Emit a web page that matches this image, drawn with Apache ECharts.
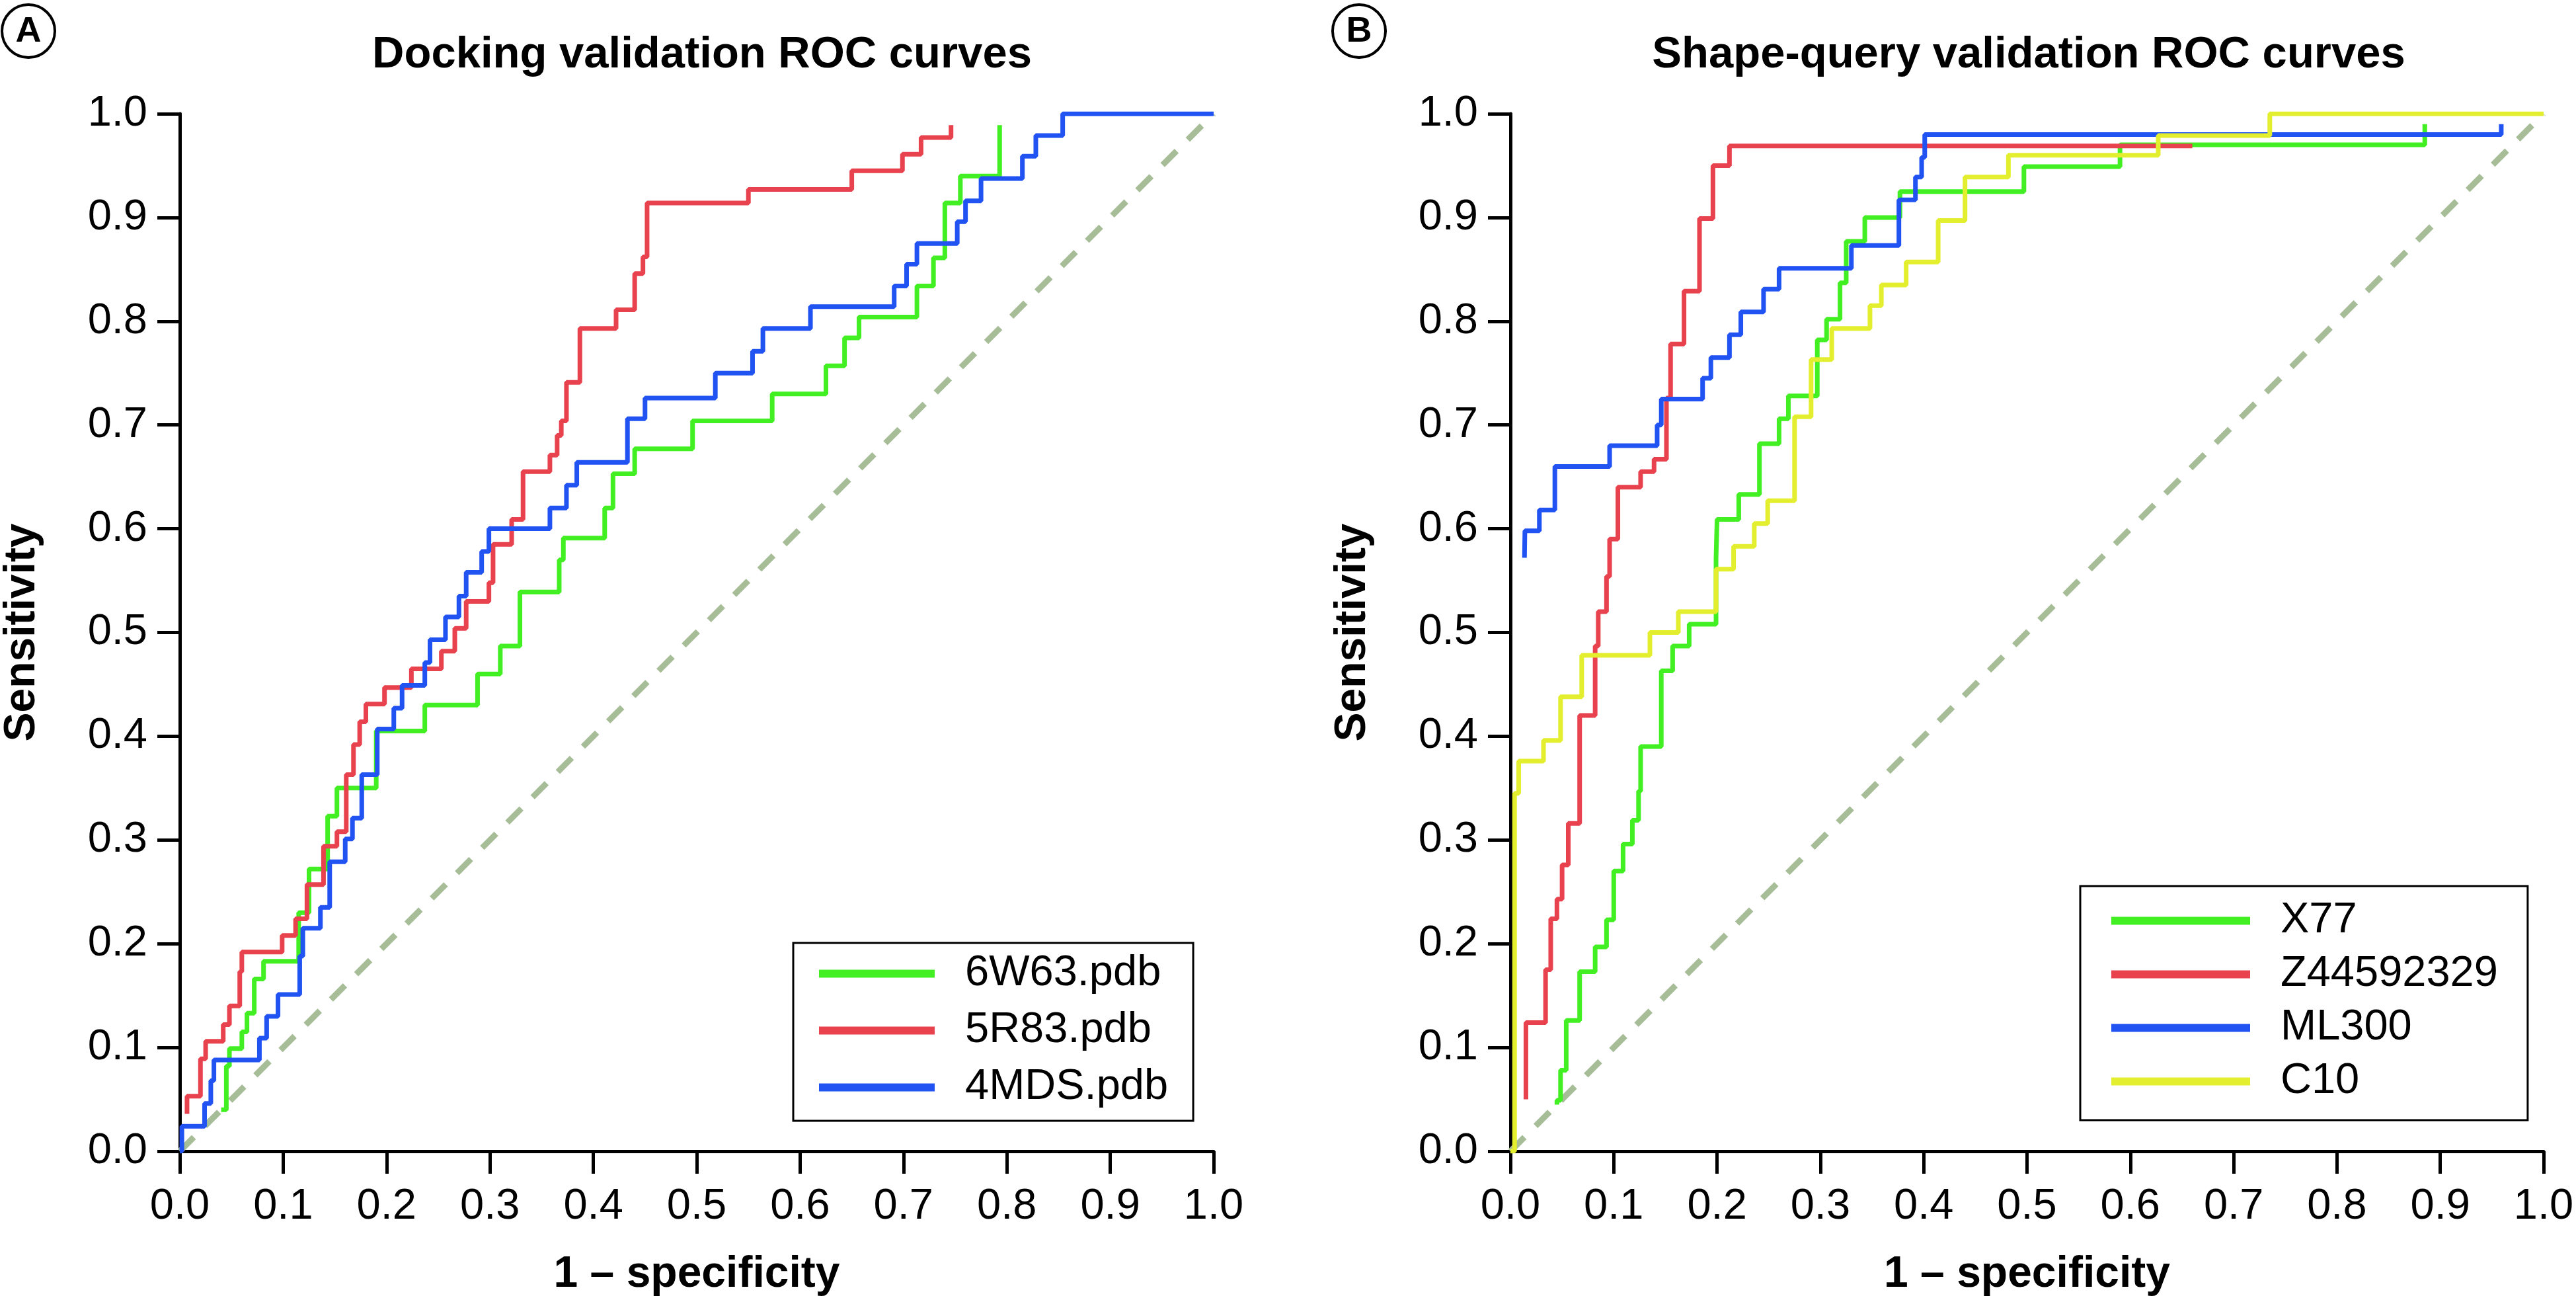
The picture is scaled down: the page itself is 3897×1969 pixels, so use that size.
<!DOCTYPE html>
<html>
<head>
<meta charset="utf-8">
<title>ROC curves</title>
<script src="https://cdn.jsdelivr.net/npm/echarts@6/dist/echarts.min.js"></script>
<style>
    html, body { margin: 0; padding: 0; background: #fff; }
    #chart { width: 3897px; height: 1969px; }
</style>
</head>
<body>
<div id="chart"></div>
<script>
    // ROC points as [1 - specificity, sensitivity]; drawn as steps (rise happens at x)
    var dockNames = ['6W63.pdb', '5R83.pdb', '4MDS.pdb'];
    var dock6W63 = [[0.04, 0.04], [0.045, 0.082], [0.048, 0.099], [0.06, 0.115], [0.065, 0.133], [0.072, 0.166], [0.081, 0.183],
        [0.115, 0.23], [0.125, 0.272], [0.143, 0.323], [0.152, 0.35], [0.19, 0.405], [0.237, 0.43], [0.288, 0.46],
        [0.31, 0.487], [0.329, 0.539], [0.367, 0.57], [0.371, 0.591], [0.411, 0.62], [0.419, 0.653], [0.44, 0.677],
        [0.496, 0.704], [0.573, 0.73], [0.625, 0.757], [0.643, 0.784], [0.657, 0.804], [0.713, 0.834], [0.729, 0.861],
        [0.74, 0.914], [0.755, 0.94], [0.793, 0.989]];
    var dock5R83 = [[0.007, 0.036], [0.007, 0.053], [0.02, 0.089], [0.025, 0.106], [0.042, 0.122], [0.048, 0.14], [0.058, 0.173],
        [0.06, 0.192], [0.099, 0.208], [0.112, 0.224], [0.123, 0.257], [0.139, 0.294], [0.152, 0.308], [0.161, 0.363],
        [0.168, 0.392], [0.174, 0.414], [0.18, 0.431], [0.198, 0.447], [0.224, 0.465], [0.253, 0.482], [0.266, 0.504],
        [0.277, 0.53], [0.299, 0.548], [0.303, 0.585], [0.321, 0.609], [0.332, 0.655], [0.358, 0.671], [0.365, 0.69],
        [0.369, 0.704], [0.374, 0.741], [0.387, 0.793], [0.422, 0.811], [0.44, 0.846], [0.448, 0.862], [0.452, 0.914],
        [0.55, 0.927], [0.65, 0.945], [0.699, 0.961], [0.717, 0.977], [0.746, 0.989]];
    var dock4MDS = [[0, 0], [0.002, 0.024], [0.024, 0.046], [0.03, 0.068], [0.033, 0.088], [0.077, 0.109], [0.084, 0.13],
        [0.095, 0.151], [0.116, 0.188], [0.119, 0.215], [0.136, 0.235], [0.145, 0.279], [0.16, 0.301], [0.167, 0.321],
        [0.176, 0.363], [0.191, 0.407], [0.207, 0.427], [0.215, 0.449], [0.237, 0.471], [0.242, 0.493], [0.257, 0.515],
        [0.27, 0.535], [0.277, 0.558], [0.292, 0.578], [0.299, 0.6], [0.358, 0.62], [0.374, 0.642], [0.384, 0.664],
        [0.433, 0.706], [0.45, 0.726], [0.518, 0.75], [0.554, 0.771], [0.564, 0.793], [0.61, 0.814], [0.691, 0.834],
        [0.703, 0.855], [0.713, 0.875], [0.752, 0.896], [0.76, 0.916], [0.775, 0.9375], [0.815, 0.959], [0.828, 0.979],
        [0.854, 1.0], [1.0, 1.0]];

    var shapeNames = ['X77', 'Z44592329', 'ML300', 'C10'];
    var shapeX77 = [[0.045, 0.045], [0.045, 0.049], [0.0485, 0.078], [0.054, 0.126], [0.067, 0.173], [0.082, 0.197], [0.093, 0.223],
        [0.1, 0.27], [0.109, 0.296], [0.118, 0.319], [0.124, 0.347], [0.126, 0.39], [0.146, 0.463], [0.157, 0.487],
        [0.173, 0.508], [0.199, 0.572], [0.2, 0.609], [0.221, 0.633], [0.241, 0.682], [0.26, 0.706], [0.269, 0.728],
        [0.297, 0.782], [0.306, 0.802], [0.319, 0.837], [0.325, 0.877], [0.343, 0.9], [0.377, 0.925], [0.497, 0.949],
        [0.59, 0.97], [0.885, 0.99]];
    var shapeZ445 = [[0.015, 0.05], [0.015, 0.124], [0.034, 0.175], [0.039, 0.224], [0.045, 0.243], [0.05, 0.276], [0.056, 0.316],
        [0.067, 0.42], [0.082, 0.487], [0.085, 0.52], [0.093, 0.554], [0.096, 0.59], [0.104, 0.64], [0.126, 0.655],
        [0.139, 0.667], [0.151, 0.726], [0.155, 0.778], [0.168, 0.829], [0.183, 0.899], [0.196, 0.95], [0.212, 0.969],
        [0.66, 0.969]];
    var shapeML300 = [[0.0136, 0.572], [0.014, 0.598], [0.028, 0.618], [0.043, 0.66], [0.096, 0.68], [0.142, 0.7],
        [0.146, 0.725], [0.186, 0.745], [0.194, 0.765], [0.212, 0.787], [0.223, 0.809], [0.245, 0.831], [0.26, 0.851],
        [0.33, 0.873], [0.376, 0.917], [0.392, 0.939], [0.398, 0.958], [0.401, 0.98], [0.959, 0.99]];
    var shapeC10 = [[0, 0], [0.004, 0.345], [0.008, 0.376], [0.032, 0.396], [0.0485, 0.438], [0.069, 0.478], [0.135, 0.5],
        [0.1625, 0.52], [0.199, 0.561], [0.216, 0.583], [0.236, 0.605], [0.249, 0.627], [0.275, 0.708], [0.291, 0.763],
        [0.311, 0.793], [0.348, 0.815], [0.359, 0.835], [0.383, 0.857], [0.414, 0.897], [0.44, 0.939], [0.482, 0.96],
        [0.627, 0.979], [0.735, 1.0], [1.0, 1.0]];

    var chanceLine = [[0, 0], [1, 1]];

    var FONT = "'Liberation Sans', Arial, Helvetica, sans-serif";
    var GREEN = '#42ef22', RED = '#e8424e', BLUE = '#2152f2', YELLOW = '#e3ef2e';

    function axis(gi, isX) {
        return {
            type: 'value', gridIndex: gi, min: 0, max: 1, interval: 0.1,
            axisLine: {show: true, onZero: false, lineStyle: {color: '#000', width: 5}},
            axisTick: {show: true, length: 34, lineStyle: {color: '#000', width: 5}},
            splitLine: {show: false},
            axisLabel: {
                color: '#000', fontSize: 65, fontFamily: FONT, margin: isX ? 52 : 49,
                formatter: function (v) { return v.toFixed(1); }
            },
            name: isX ? '1 \u2013 specificity' : 'Sensitivity',
            nameLocation: 'middle',
            nameGap: isX ? 154 : 205,
            nameTextStyle: {color: '#000', fontSize: 66, fontWeight: 'bold', fontFamily: FONT}
        };
    }

    function roc(name, data, color, gi) {
        return {
            name: name, type: 'line', xAxisIndex: gi, yAxisIndex: gi, data: data,
            step: 'end', symbol: 'none', showSymbol: false,
            lineStyle: {color: color, width: 7}, itemStyle: {color: color}, z: 3
        };
    }

    function chance(gi) {
        return {
            type: 'line', xAxisIndex: gi, yAxisIndex: gi, data: chanceLine, symbol: 'none', silent: true,
            lineStyle: {color: '#a6bd98', width: 9, type: [30, 24]}, z: 2
        };
    }

    function legend(names, left, top, lineW, gap, pad) {
        return {
            data: names, orient: 'vertical', left: left, top: top, icon: 'rect',
            itemWidth: lineW, itemHeight: 12, itemGap: gap, padding: pad,
            borderColor: '#000', borderWidth: 3, selectedMode: false,
            textStyle: {color: '#000', fontSize: 65, fontFamily: FONT, lineHeight: 64, padding: [0, 0, 0, 41]}
        };
    }

    function badge(cx, letter) {
        return [
            {type: 'circle', shape: {cx: cx, cy: 47, r: 40}, style: {fill: '#fff', stroke: '#000', lineWidth: 4}},
            {type: 'text', x: cx, y: 48, style: {text: letter, fill: '#000', font: 'bold 54px ' + FONT, align: 'center', verticalAlign: 'middle'}}
        ];
    }

    var myChart = echarts.init(document.getElementById('chart'));
    var option = {
        animation: false,
        backgroundColor: '#fff',
        title: [
            {text: 'Docking validation ROC curves', left: 1062, top: 50, textAlign: 'center', padding: 0,
                textStyle: {fontSize: 67, fontWeight: 'bold', fontFamily: FONT, color: '#000'}},
            {text: 'Shape-query validation ROC curves', left: 3069, top: 50, textAlign: 'center', padding: 0,
                textStyle: {fontSize: 67, fontWeight: 'bold', fontFamily: FONT, color: '#000'}}
        ],
        grid: [
            {left: 272, top: 172, width: 1564, height: 1569, outerBoundsMode: 'none'},
            {left: 2285, top: 172, width: 1563, height: 1569, outerBoundsMode: 'none'}
        ],
        xAxis: [axis(0, true), axis(1, true)],
        yAxis: [axis(0, false), axis(1, false)],
        legend: [
            legend(dockNames, 1200, 1426, 175, 21, [14, 38, 18, 39]),
            legend(shapeNames, 3147, 1340, 210, 16, [20, 45, 26, 47])
        ],
        graphic: badge(43, 'A').concat(badge(2056, 'B')),
        series: [
            chance(0),
            roc(dockNames[0], dock6W63, GREEN, 0),
            roc(dockNames[1], dock5R83, RED, 0),
            roc(dockNames[2], dock4MDS, BLUE, 0),
            chance(1),
            roc(shapeNames[0], shapeX77, GREEN, 1),
            roc(shapeNames[1], shapeZ445, RED, 1),
            roc(shapeNames[2], shapeML300, BLUE, 1),
            roc(shapeNames[3], shapeC10, YELLOW, 1)
        ]
    };

    myChart.setOption(option);
    window.onresize = function () {
        myChart.resize();
    };
</script>
</body>
</html>
